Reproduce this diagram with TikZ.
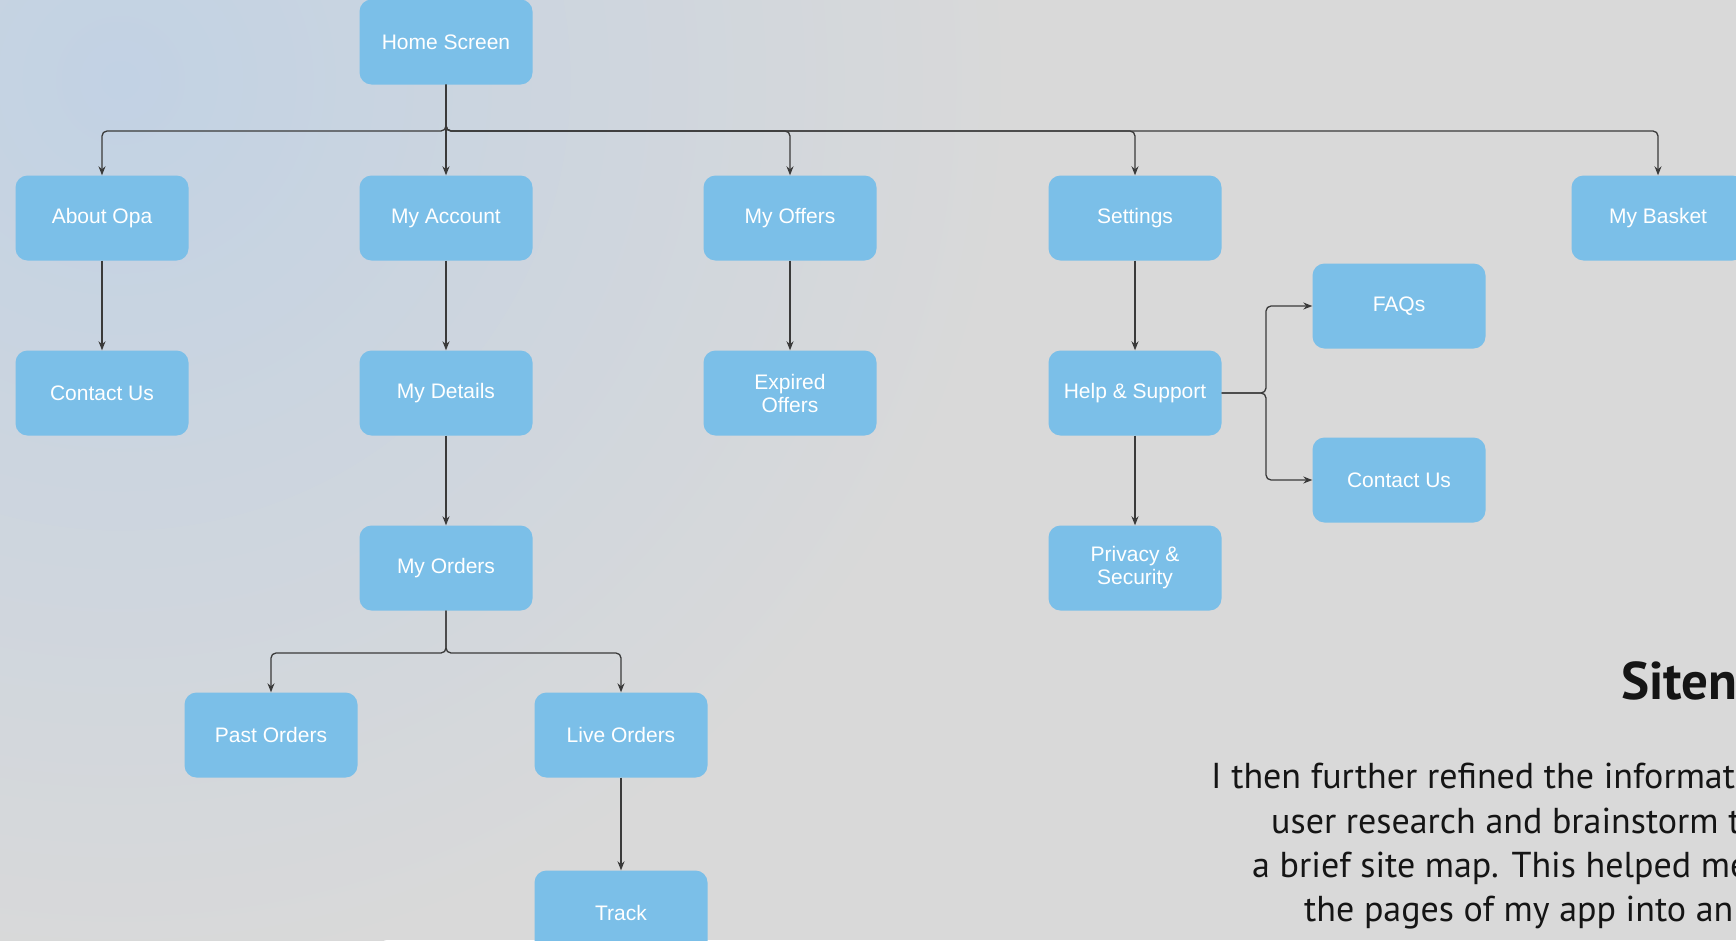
\documentclass[tikz,border=0pt]{standalone}
\usepackage{fontspec}
\setmainfont{Liberation Sans}
\newfontfamily\notefont{PT Sans}
\usetikzlibrary{arrows.meta,calc}

\definecolor{pageblue}{HTML}{7BBFE8}
\definecolor{bggray}{HTML}{D9D9D9}
\definecolor{bgblue}{HTML}{C2D2E4}
\definecolor{wiregray}{HTML}{3A3A3A}
\definecolor{inkblack}{HTML}{151515}

\tikzset{
  page/.style={rounded corners=12pt, fill=pageblue, text=white, minimum width=173pt,
    minimum height=85pt, inner sep=0pt, align=center, font=\fontsize{21}{23}\selectfont},
  link/.style={draw=wiregray, line width=1.3pt, rounded corners=5pt,
    -{Stealth[length=9pt,width=7pt]}},
  noteline/.style={anchor=base west, text=inkblack, inner sep=0pt,
    font=\notefont\fontsize{36}{40}\selectfont},
}

\begin{document}
\begin{tikzpicture}[x=1pt,y=-1pt]

  %--- Khung và nền ---
  \useasboundingbox (0,0) rectangle (1736,940);
  \clip (0,0) rectangle (1736,940);
  \fill[bggray] (0,0) rectangle (1736,940);
  \shade[inner color=bgblue, outer color=bggray] (120,80) circle (900);

  %--- Các trang ---
  \node[page] (home) at (446,42) {Home Screen};

  \node[page] (about)    at (102,218)  {About Opa};
  \node[page] (account)  at (446,218)  {My Account};
  \node[page] (offers)   at (790,218)  {My Offers};
  \node[page] (settings) at (1135,218) {Settings};
  \node[page] (basket)   at (1658,218) {My Basket};

  \node[page] (contact) at (102,393)  {Contact Us};
  \node[page] (details) at (446,393)  {My Details};
  \node[page] (expired) at (790,393)  {Expired\\Offers};
  \node[page] (help)    at (1135,393) {Help \& Support};

  \node[page] (faq)         at (1399,306) {FAQs};
  \node[page] (contacthelp) at (1399,480) {Contact Us};

  \node[page] (orders)  at (446,568)  {My Orders};
  \node[page] (privacy) at (1135,568) {Privacy \&\\Security};

  \node[page] (past)  at (271,735) {Past Orders};
  \node[page] (live)  at (621,735) {Live Orders};
  \node[page] (track) at (621,913) {Track};

  %--- Đường nối ---
  \coordinate (bus) at (446,131);
  \foreach \p in {about,offers,settings,basket} {
    \draw[link] (home.south) -- (bus) -| (\p.north);
  }
  \draw[link] (home.south) -- (account.north);

  \foreach \a/\b in {about/contact, account/details, offers/expired, settings/help,
                     details/orders, help/privacy, live/track} {
    \draw[link] (\a.south) -- (\b.north); % mũi tên thẳng đứng
  }

  \coordinate (split) at (446,653);
  \foreach \p in {past,live} {
    \draw[link] (orders.south) -- (split) -| (\p.north);
  }

  \coordinate (fork) at (1266,393);
  \foreach \p in {faq,contacthelp} {
    \draw[link] (help.east) -- (fork) |- (\p.west);
  }

  %--- Chữ bên phải ---
  \node[anchor=base west, text=inkblack, inner sep=0pt,
        font=\notefont\bfseries\fontsize{53}{60}\selectfont] (title) at (1621,699) {Siten};
  \node[noteline] (line1) at (1211,788) {I then further refined the informat};
  \node[noteline] (line2) at (1271,833) {user research and brainstorm t};
  \node[noteline] (line3) at (1252,877) {a brief site map. This helped me};
  \node[noteline] (line4) at (1304,921) {the pages of my app into an};

\end{tikzpicture}
\end{document}
